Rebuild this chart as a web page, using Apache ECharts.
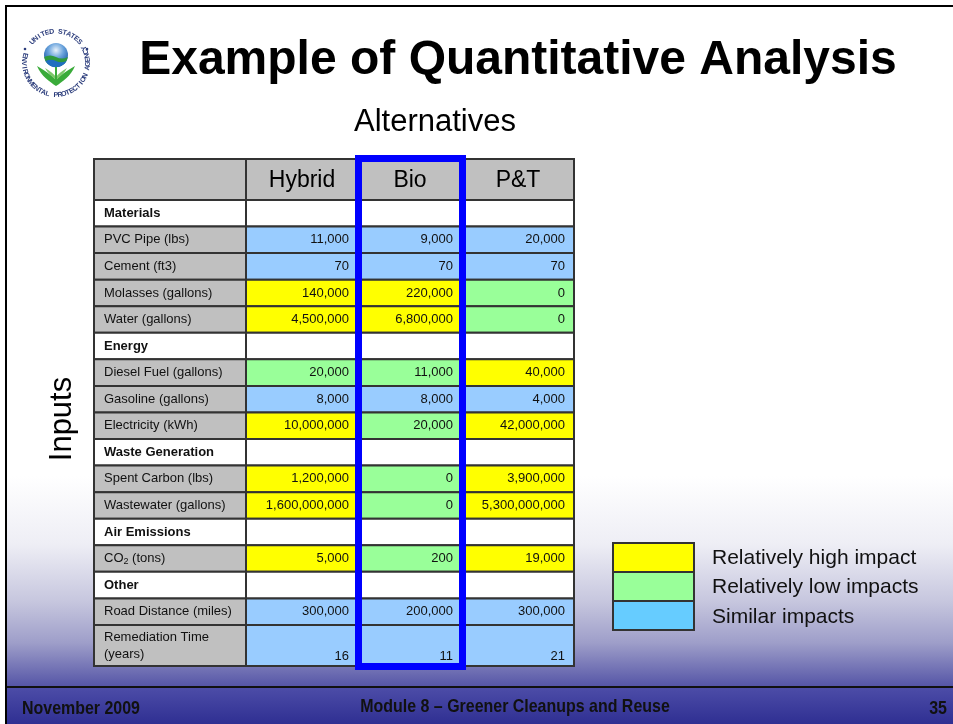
<!DOCTYPE html>
<html><head><meta charset="utf-8">
<script src="https://cdn.jsdelivr.net/npm/echarts@6/dist/echarts.min.js"></script>
<style>html,body{margin:0;padding:0;background:#fff}#c{width:953px;height:724px}</style>
</head><body><div id="c"></div>
<script>
// ---------------- data ----------------
const columns = ['Hybrid', 'Bio', 'P&T'];
const rowLabels = ['Materials', 'PVC Pipe (lbs)', 'Cement (ft3)', 'Molasses (gallons)', 'Water (gallons)',
  'Energy', 'Diesel Fuel (gallons)', 'Gasoline (gallons)', 'Electricity (kWh)',
  'Waste Generation', 'Spent Carbon (lbs)', 'Wastewater (gallons)',
  'Air Emissions', 'CO2 (tons)', 'Other', 'Road Distance (miles)', 'Remediation Time\n(years)'];
const sectionRows = ['Materials', 'Energy', 'Waste Generation', 'Air Emissions', 'Other'];
const hybridValues = [null, 11000, 70, 140000, 4500000, null, 20000, 8000, 10000000, null, 1200000, 1600000000, null, 5000, null, 300000, 16];
const bioValues    = [null, 9000, 70, 220000, 6800000, null, 11000, 8000, 20000, null, 0, 0, null, 200, null, 200000, 11];
const ptValues     = [null, 20000, 70, 0, 0, null, 40000, 4000, 42000000, null, 3900000, 5300000000, null, 19000, null, 300000, 21];
const hybridImpact = [null, 'S', 'S', 'H', 'H', null, 'L', 'S', 'H', null, 'H', 'H', null, 'H', null, 'S', 'S'];
const bioImpact    = [null, 'S', 'S', 'H', 'H', null, 'L', 'S', 'L', null, 'L', 'L', null, 'L', null, 'S', 'S'];
const ptImpact     = [null, 'S', 'S', 'L', 'L', null, 'H', 'S', 'H', null, 'H', 'H', null, 'H', null, 'S', 'S'];
const impactKeys = ['H', 'L', 'S'];
const legendLabels = ['Relatively high impact', 'Relatively low impacts', 'Similar impacts'];
const highlightColumn = 'Bio';
const titleText = 'Example of Quantitative Analysis';
const columnGroupText = 'Alternatives';
const rowGroupText = 'Inputs';
const footerLeft = 'November 2009';
const footerCenter = 'Module 8 \u2013 Greener Cleanups and Reuse';
const footerRight = '35';

// ---------------- styles / layout ----------------
const impactFill = { H: '#FFFF00', L: '#99FF99', S: '#99CCFF' };
const legendFill = { H: '#FFFF00', L: '#99FF99', S: '#66CCFF' };
const colWidths = [152, 112, 104, 112];
const headerH = 41, rowH = 26.56, tallRowH = 41;
const colEdges = [0];
colWidths.forEach(w => colEdges.push(colEdges[colEdges.length - 1] + w));
const rowEdges = [0, headerH];
rowLabels.forEach(l => rowEdges.push(rowEdges[rowEdges.length - 1] + (l.indexOf('\n') >= 0 ? tallRowH : rowH)));
const tableW = colEdges[colEdges.length - 1];
const tableH = rowEdges[rowEdges.length - 1];
const FONT = 'Arial, "Liberation Sans", Helvetica, sans-serif';
const valueSets = [hybridValues, bioValues, ptValues];
const impactSets = [hybridImpact, bioImpact, ptImpact];

// cells: [col, row]; row 0 = header
const cells = [];
for (let r = 0; r <= rowLabels.length; r++) for (let c = 0; c <= columns.length; c++) cells.push([c, r]);

function renderCell(params, api) {
  const c = api.value(0), r = api.value(1);
  const p0 = api.coord([colEdges[c], rowEdges[r]]);
  const p1 = api.coord([colEdges[c + 1], rowEdges[r + 1]]);
  const x = p0[0], y = p0[1], w = p1[0] - p0[0], h = p1[1] - p0[1];
  let fill = '#FFFFFF';
  let textEl = null;
  if (r === 0) {
    fill = '#C0C0C0';
    if (c > 0) textEl = { type: 'text', x: x + w / 2, y: y + h / 2 + 1, style: { text: columns[c - 1], font: '23px ' + FONT, fill: '#000', align: 'center', verticalAlign: 'middle' } };
  } else {
    const label = rowLabels[r - 1];
    const isSection = sectionRows.indexOf(label) >= 0;
    const tall = label.indexOf('\n') >= 0;
    if (c === 0) {
      fill = isSection ? '#FFFFFF' : '#C0C0C0';
      if (label === 'CO2 (tons)') {
        textEl = { type: 'text', x: x + 10, y: y + h / 2, style: { text: '{a|CO}{b|2}{a| (tons)}', align: 'left', verticalAlign: 'middle', rich: { a: { font: '13px ' + FONT, fill: '#111' }, b: { font: '9px ' + FONT, fill: '#111', padding: [5, 0, 0, 0] } } } };
      } else {
        textEl = { type: 'text', x: x + 10, y: y + h / 2, style: { text: label, font: (isSection ? 'bold ' : '') + '13px ' + FONT, fill: '#111', align: 'left', verticalAlign: 'middle', lineHeight: 17 } };
      }
    } else {
      const v = valueSets[c - 1][r - 1];
      const imp = impactSets[c - 1][r - 1];
      fill = imp ? impactFill[imp] : '#FFFFFF';
      if (v !== null) {
        textEl = { type: 'text', x: x + w - 9, y: tall ? y + h - 10 : y + h / 2, style: { text: v.toLocaleString('en-US'), font: '13px ' + FONT, fill: '#111', align: 'right', verticalAlign: 'middle' } };
      }
    }
  }
  const children = [{ type: 'rect', shape: { x: x, y: y, width: w, height: h }, style: { fill: fill, stroke: '#333333', lineWidth: 2 } }];
  if (textEl) children.push(textEl);
  return { type: 'group', children: children };
}

function renderHighlight(params, api) {
  const c = api.value(0);
  const p0 = api.coord([colEdges[c], 0]);
  const p1 = api.coord([colEdges[c + 1], tableH]);
  return { type: 'rect', shape: { x: p0[0] + 0.5, y: p0[1] - 0.5, width: p1[0] - p0[0], height: p1[1] - p0[1] + 1 }, style: { fill: 'none', stroke: '#0000FF', lineWidth: 7 } };
}

// ---------------- logo ----------------
function ringText(str, cx, cy, r, startDeg, stepDeg, top) {
  const els = [];
  for (let i = 0; i < str.length; i++) {
    const th = top ? startDeg + i * stepDeg : startDeg - i * stepDeg;
    const rad = th * Math.PI / 180;
    const rot = top ? (270 - th) : (90 - th);
    els.push({ type: 'text', x: cx + r * Math.cos(rad), y: cy + r * Math.sin(rad), rotation: rot * Math.PI / 180,
      style: { text: str[i], font: 'bold 7px ' + FONT, fill: '#2c3d7c', align: 'center', verticalAlign: 'middle' } });
  }
  return els;
}
const LCX = 56, LCY = 63;
function renderLogo() {
  const children = [].concat(
    ringText('UNITED STATES', LCX, LCY, 31.5, 222, 8, true),
    ringText('ENVIRONMENTAL PROTECTION AGENCY', LCX, LCY, 32, 194, 7.4, false),
    [
      { type: 'circle', shape: { cx: LCX - 31, cy: LCY - 14, r: 1.3 }, style: { fill: '#2c3d7c' } },
      { type: 'circle', shape: { cx: LCX + 31, cy: LCY - 14, r: 1.3 }, style: { fill: '#2c3d7c' } },
      { type: 'circle', shape: { cx: 56, cy: 55, r: 12 }, style: { fill: { type: 'radial', x: 0.5, y: 0.3, r: 0.7, colorStops: [{ offset: 0, color: '#e8f2fb' }, { offset: 0.45, color: '#6aa3dc' }, { offset: 1, color: '#12509f' }] } } },
      { type: 'path', shape: { pathData: 'M 44.2 57 Q 50 54 56 57 Q 62 60 67.8 57 A 12 12 0 0 1 44.2 57 Z' }, style: { fill: '#2f9a3c' } },
      { type: 'path', shape: { pathData: 'M 45.5 61 Q 51 58.5 56 61 Q 61 63.5 66.5 61 A 12 12 0 0 1 45.5 61 Z' }, style: { fill: '#1f6fc0' } },
      { type: 'path', shape: { pathData: 'M 56 86 C 50 82 41 76 37 66 C 45 71 52 75 56 80 Z' }, style: { fill: '#3aab3a' } },
      { type: 'path', shape: { pathData: 'M 56 86 C 62 82 71 76 75 66 C 67 71 60 75 56 80 Z' }, style: { fill: '#3aab3a' } },
      { type: 'path', shape: { pathData: 'M 56 80 C 51 76 47 72 45 68 C 50 71 54 74 56 77 Z' }, style: { fill: '#7cc86a' } },
      { type: 'path', shape: { pathData: 'M 56 80 C 61 76 65 72 67 68 C 62 71 58 74 56 77 Z' }, style: { fill: '#7cc86a' } },
      { type: 'rect', shape: { x: 55, y: 67, width: 2, height: 18 }, style: { fill: '#3aab3a' } }
    ]
  );
  return { type: 'group', children: children };
}

// ---------------- legend ----------------
const legendEls = [];
impactKeys.forEach((k, i) => {
  legendEls.push({ type: 'rect', shape: { x: 613, y: 543 + i * 29, width: 81, height: 29 }, style: { fill: legendFill[k], stroke: '#333', lineWidth: 2 }, z: 5 });
  legendEls.push({ type: 'text', x: 712, y: 558 + i * 29.5, style: { text: legendLabels[i], font: '21px ' + FONT, fill: '#111', align: 'left', verticalAlign: 'middle' }, z: 5 });
});

const footerStyle = { font: 'bold 19px ' + FONT, fill: '#111', verticalAlign: 'middle' };
const chart = echarts.init(document.getElementById('c'), null, { renderer: 'canvas' });
chart.setOption({
  animation: false,
  backgroundColor: '#ffffff',
  grid: { left: 94, top: 159, width: tableW, height: tableH, containLabel: false },
  xAxis: { type: 'value', min: 0, max: tableW, show: false },
  yAxis: { type: 'value', min: 0, max: tableH, inverse: true, show: false },
  graphic: [
    { type: 'rect', z: 0, shape: { x: 7, y: 7, width: 946, height: 680 }, style: { fill: { type: 'linear', x: 0, y: 0, x2: 0, y2: 1, colorStops: [
      { offset: 0, color: '#ffffff' }, { offset: 0.69, color: '#ffffff' }, { offset: 0.79, color: '#eeeef5' },
      { offset: 0.875, color: '#c6c6de' }, { offset: 0.935, color: '#9e9ec9' }, { offset: 1, color: '#5454a6' }] } } },
    { type: 'rect', z: 0, shape: { x: 7, y: 687, width: 946, height: 37 }, style: { fill: { type: 'linear', x: 0, y: 0, x2: 0, y2: 1, colorStops: [
      { offset: 0, color: '#4d4da8' }, { offset: 1, color: '#2f2f92' }] } } },
    { type: 'line', z: 1, shape: { x1: 7, y1: 687, x2: 953, y2: 687 }, style: { stroke: '#111', lineWidth: 2 } },
    { type: 'line', z: 1, shape: { x1: 6, y1: 6, x2: 953, y2: 6 }, style: { stroke: '#000', lineWidth: 2 } },
    { type: 'line', z: 1, shape: { x1: 6, y1: 5, x2: 6, y2: 724 }, style: { stroke: '#000', lineWidth: 2 } },
    { type: 'text', z: 5, x: 518, y: 61, style: { text: titleText, font: 'bold 48px ' + FONT, fill: '#000', align: 'center', verticalAlign: 'middle' } },
    { type: 'text', z: 5, x: 435, y: 122, style: { text: columnGroupText, font: '31px ' + FONT, fill: '#000', align: 'center', verticalAlign: 'middle' } },
    { type: 'text', z: 5, x: 62, y: 419, rotation: Math.PI / 2, style: { text: rowGroupText, font: '31px ' + FONT, fill: '#000', align: 'center', verticalAlign: 'middle' } },
    { type: 'text', z: 5, x: 22, y: 709, scaleX: 0.84, style: Object.assign({ text: footerLeft, align: 'left' }, footerStyle) },
    { type: 'text', z: 5, x: 515, y: 707, scaleX: 0.84, style: Object.assign({ text: footerCenter, align: 'center' }, footerStyle) },
    { type: 'text', z: 5, x: 947, y: 709, scaleX: 0.84, style: Object.assign({ text: footerRight, align: 'right' }, footerStyle) }
  ].concat(legendEls),
  series: [
    { type: 'custom', name: 'table', z: 3, renderItem: renderCell, data: cells, silent: true },
    { type: 'custom', name: 'highlight', z: 4, renderItem: renderHighlight, data: [[columns.indexOf(highlightColumn) + 1]], silent: true },
    { type: 'custom', name: 'logo', coordinateSystem: 'none', z: 5, renderItem: renderLogo, data: [[0]], silent: true }
  ]
});
</script>
</body></html>
